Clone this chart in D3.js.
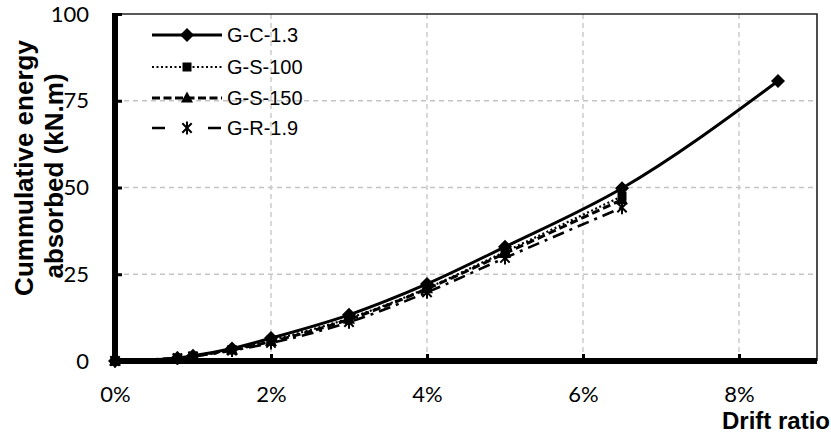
<!DOCTYPE html>
<html><head><meta charset="utf-8">
<script src="https://cdn.jsdelivr.net/npm/d3@7"></script>
<style>body{margin:0;background:#fff}svg{display:block}</style>
</head><body>
<svg id="c" width="831" height="437"></svg>
<script>
// ---- data ----
const drift = [0, 0.008, 0.010, 0.015, 0.020, 0.030, 0.040, 0.050, 0.065, 0.085];
const seriesNames = ["G-C-1.3", "G-S-100", "G-S-150", "G-R-1.9"];
const valsGC13  = [0, 0.9, 1.5, 3.6, 6.6, 13.3, 22.2, 32.9, 49.8, 80.7];
const valsGS100 = [0, 0.9, 1.4, 3.3, 6.0, 12.3, 21.0, 31.5, 47.5];
const valsGS150 = [0, 0.9, 1.4, 3.2, 5.6, 12.0, 20.8, 31.0, 46.5];
const valsGR19  = [0, 0.8, 1.3, 3.0, 5.2, 11.2, 19.8, 29.7, 44.2];
const xTicks = [0, 0.02, 0.04, 0.06, 0.08];
const yTicks = [0, 25, 50, 75, 100];
const xTitle = "Drift ratio";
const yTitleLines = ["Cummulative energy", "absorbed (kN.m)"];

const allVals = [valsGC13, valsGS100, valsGS150, valsGR19];
const styles = [
  {dash: null, w: 3, marker: "diamond", legendDash: null},
  {dash: "2,2.5", w: 2.2, marker: "square", legendDash: "2,2.5"},
  {dash: "8,4", w: 3, marker: "triangle", legendDash: "8,3.5"},
  {dash: "12,6,3,6", w: 2.6, marker: "asterisk", legendDash: "13,43"}
];

const svg = d3.select("#c");
const L = 115, R = 817, T = 14, B = 361;
const x = d3.scaleLinear().domain([0, 0.09]).range([L, R]);
const y = d3.scaleLinear().domain([0, 100]).range([B, T]);

// grid
const g = svg.append("g");
g.selectAll(".vg").data(xTicks.filter(d => d > 0)).enter().append("line")
  .attr("x1", d => x(d)).attr("x2", d => x(d)).attr("y1", T).attr("y2", B)
  .attr("stroke", "#c4c4c4").attr("stroke-width", 1.3).attr("stroke-dasharray", "5,4");
g.selectAll(".hg").data(yTicks.filter(d => d > 0 && d < 100)).enter().append("line")
  .attr("x1", L).attr("x2", R).attr("y1", d => y(d)).attr("y2", d => y(d))
  .attr("stroke", "#c4c4c4").attr("stroke-width", 1.3).attr("stroke-dasharray", "5,4");
// border top/right
svg.append("path").attr("d", `M${L},${T}H${R}V${B}`).attr("fill", "none")
  .attr("stroke", "#222").attr("stroke-width", 1.6);

function marker(sel, type, cx, cy) {
  if (type === "diamond") {
    sel.append("path").attr("d", `M${cx},${cy-7}L${cx+7},${cy}L${cx},${cy+7}L${cx-7},${cy}Z`).attr("fill", "#000");
  } else if (type === "square") {
    sel.append("rect").attr("x", cx-4.5).attr("y", cy-4.5).attr("width", 9).attr("height", 9).attr("fill", "#000");
  } else if (type === "triangle") {
    sel.append("path").attr("d", `M${cx},${cy-6.5}L${cx+6},${cy+4.5}L${cx-6},${cy+4.5}Z`).attr("fill", "#000");
  } else {
    const r = 6.5, d = r * 0.72;
    sel.append("path").attr("d", `M${cx},${cy-r}V${cy+r}M${cx-d},${cy-d}L${cx+d},${cy+d}M${cx-d},${cy+d}L${cx+d},${cy-d}`)
      .attr("stroke", "#000").attr("stroke-width", 2).attr("fill", "none");
  }
}

// series lines
const line = d3.line().x(d => x(d[0])).y(d => y(d[1])).curve(d3.curveMonotoneX);
allVals.forEach((vals, i) => {
  const pts = vals.map((v, j) => [drift[j], v]);
  const st = styles[i];
  svg.append("path").datum(pts).attr("d", line).attr("fill", "none")
    .attr("stroke", "#000").attr("stroke-width", st.w)
    .attr("stroke-dasharray", st.dash);
});

// axes
const yAxis = d3.axisLeft(y).tickValues(yTicks).tickSize(-7).tickSizeOuter(0).tickPadding(26).tickFormat(d3.format("d"));
const ya = svg.append("g").attr("transform", `translate(${L},0)`).call(yAxis);
ya.select(".domain").attr("stroke", "#000").attr("stroke-width", 6).attr("d", `M0,${T-1}V${B+3}`);
ya.selectAll(".tick line").attr("stroke-width", 3);
ya.selectAll("text").attr("font-family", "Lato, 'Open Sans', sans-serif").attr("font-size", 22).attr("fill", "#000");

const xAxis = d3.axisBottom(x).tickValues(xTicks).tickSize(-7).tickSizeOuter(0).tickPadding(25).tickFormat(d3.format(".0%"));
const xa = svg.append("g").attr("transform", `translate(0,${B})`).call(xAxis);
xa.select(".domain").attr("stroke", "#000").attr("stroke-width", 6).attr("d", `M${L-3},0H${R}`);
xa.selectAll(".tick line").attr("stroke-width", 3);
xa.selectAll("text").attr("font-family", "Lato, 'Open Sans', sans-serif").attr("font-size", 22).attr("fill", "#000");

// markers
allVals.forEach((vals, i) => {
  const mg = svg.append("g");
  vals.forEach((v, j) => marker(mg, styles[i].marker, x(drift[j]), y(v)));
});

// titles
svg.append("text").attr("x", 830).attr("y", 429).attr("text-anchor", "end")
  .attr("font-family", "'Liberation Sans', Arial, sans-serif").attr("font-weight", "bold")
  .attr("font-size", 24).text(xTitle);
const ytx = [33, 63], yty = [168, 176];
yTitleLines.forEach((t, i) => {
  svg.append("text").attr("transform", `translate(${ytx[i]},${yty[i]}) rotate(-90)`)
    .attr("text-anchor", "middle")
    .attr("font-family", "'Liberation Sans', Arial, sans-serif").attr("font-weight", "bold")
    .attr("font-size", 26).text(t);
});

// legend
const lg = svg.append("g");
const rowY = [35, 67, 98, 128];
seriesNames.forEach((n, i) => {
  const st = styles[i];
  lg.append("line").attr("x1", 152).attr("x2", 222).attr("y1", rowY[i]).attr("y2", rowY[i])
    .attr("stroke", "#000").attr("stroke-width", st.w).attr("stroke-dasharray", st.legendDash);
  marker(lg, st.marker, 187, rowY[i]);
  lg.append("text").attr("x", 227).attr("y", rowY[i]).attr("dy", "0.36em")
    .attr("font-family", "'Liberation Sans', Arial, sans-serif").attr("font-size", 20).text(n);
});
</script>
</body></html>
